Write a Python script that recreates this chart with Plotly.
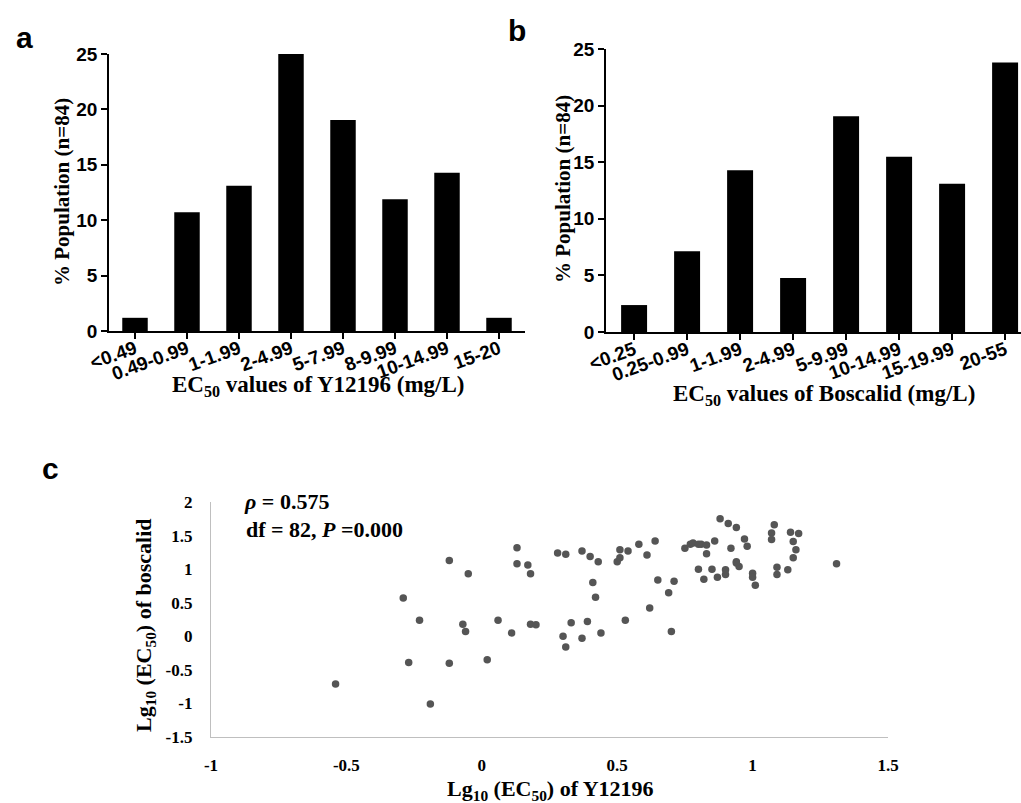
import plotly.graph_objects as go

# ---------------- data ----------------
cats_a = ["<0.49", "0.49-0.99", "1-1.99", "2-4.99", "5-7.99", "8-9.99", "10-14.99", "15-20"]
pct_a = [1.19, 10.71, 13.10, 25.00, 19.05, 11.90, 14.29, 1.19]

cats_b = ["<0.25", "0.25-0.99", "1-1.99", "2-4.99", "5-9.99", "10-14.99", "15-19.99", "20-55"]
pct_b = [2.38, 7.14, 14.29, 4.76, 19.05, 15.48, 13.10, 23.81]

bar_yticks = [0, 5, 10, 15, 20, 25]

lg_y12196 = [-0.54, -0.19, -0.29, -0.27, -0.23, -0.12, -0.12, -0.07, -0.06, -0.05,
             0.02, 0.06, 0.11, 0.13, 0.13, 0.17, 0.18, 0.18, 0.20, 0.28,
             0.30, 0.31, 0.31, 0.33, 0.37, 0.37, 0.39, 0.40, 0.41, 0.42,
             0.43, 0.44, 0.50, 0.51, 0.51, 0.53, 0.54, 0.58, 0.61, 0.62,
             0.64, 0.65, 0.69, 0.70, 0.71, 0.75, 0.77, 0.78, 0.80, 0.81,
             0.82, 0.83, 0.83, 0.85, 0.86, 0.87, 0.88, 0.90, 0.90, 0.91,
             0.92, 0.94, 0.94, 0.95, 0.97, 0.98, 1.00, 1.00, 1.01, 1.08,
             1.07, 1.07, 1.09, 1.09, 1.13, 1.14, 1.15, 1.15, 1.16, 1.17,
             1.31, 0.80, 0.94]
lg_boscalid = [-0.71, -1.01, 0.57, -0.39, 0.24, 1.13, -0.40, 0.18, 0.07, 0.93,
               -0.35, 0.24, 0.05, 1.08, 1.32, 1.06, 0.93, 0.18, 0.17, 1.24,
               0.00, -0.16, 1.22, 0.20, 1.27, -0.03, 0.22, 1.19, 0.80, 0.58,
               1.11, 0.05, 1.11, 1.29, 1.17, 0.24, 1.27, 1.37, 1.21, 0.42,
               1.42, 0.84, 0.65, 0.07, 0.82, 1.31, 1.37, 1.39, 1.00, 1.37,
               0.85, 1.36, 1.23, 1.00, 1.42, 0.88, 1.75, 0.92, 0.99, 1.68,
               1.31, 1.11, 1.62, 1.04, 1.45, 1.34, 0.94, 0.88, 0.76, 1.66,
               1.54, 1.44, 1.03, 0.92, 0.99, 1.55, 1.41, 1.17, 1.29, 1.53,
               1.08, 1.37, 1.09]

sc_xticks = [-1, -0.5, 0, 0.5, 1, 1.5]
sc_xtext = ["-1", "-0.5", "0", "0.5", "1", "1.5"]
sc_yticks = [2, 1.5, 1, 0.5, 0, -0.5, -1, -1.5]
sc_ytext = ["2", "1.5", "1", "0.5", "0", "-0.5", "-1", "-1.5"]

# ---------------- layout helpers ----------------
W, H = 1021, 803
def fx(p):
    return p / W
def fy(p):
    return 1 - p / H

SANS = "Liberation Sans, Arial, sans-serif"
SERIF = "Liberation Serif, Times New Roman, serif"

fig = go.Figure()

fig.add_trace(go.Bar(x=cats_a, y=pct_a, marker=dict(color="black", line=dict(width=0)),
                     width=0.49, xaxis="x", yaxis="y", showlegend=False))
fig.add_trace(go.Bar(x=cats_b, y=pct_b, marker=dict(color="black", line=dict(width=0)),
                     width=0.49, xaxis="x2", yaxis="y2", showlegend=False))
fig.add_trace(go.Scatter(x=lg_y12196, y=lg_boscalid, mode="markers",
                         marker=dict(color="#555555", size=7.5, line=dict(width=0)),
                         xaxis="x3", yaxis="y3", showlegend=False))

bar_x_common = dict(type="category", showline=True, linecolor="black", linewidth=1.5,
                    ticks="outside", ticklen=6, tickwidth=1.5, tickcolor="black",
                    tickangle=-20, showgrid=False, zeroline=False, automargin=False,
                    ticklabelstandoff=-8,
                    tickfont=dict(family=SANS, size=19, color="black", weight="bold"))
bar_y_common = dict(range=[0, 25], tickvals=bar_yticks, showline=True, linecolor="black",
                    linewidth=1.5, ticks="outside", ticklen=6, tickwidth=1.5,
                    tickcolor="black", showgrid=False, zeroline=False, automargin=False,
                    tickfont=dict(family=SANS, size=19, color="black", weight="bold"))

fig.update_layout(
    width=W, height=H,
    margin=dict(l=0, r=0, t=0, b=0, pad=0),
    paper_bgcolor="white", plot_bgcolor="white",
    bargap=0.5,
    xaxis=dict(domain=[fx(109), fx(525)], range=[-0.5, 7.5], anchor="y", **bar_x_common),
    yaxis=dict(domain=[fy(331), fy(54)], anchor="x", **bar_y_common),
    xaxis2=dict(domain=[fx(606), 1.0], range=[-0.53, 7.30], anchor="y2", **bar_x_common),
    yaxis2=dict(domain=[fy(332), fy(49)], anchor="x2", **bar_y_common),
    xaxis3=dict(domain=[fx(211), fx(888)], range=[-1, 1.5], anchor="y3",
                tickvals=sc_xticks, ticktext=sc_xtext, automargin=False,
                showline=True, linecolor="#BFBFBF", linewidth=1.2,
                ticks="", showgrid=False, zeroline=False, ticklabelstandoff=12,
                tickfont=dict(family=SERIF, size=17, color="black", weight="bold")),
    yaxis3=dict(domain=[fy(737), fy(502)], range=[-1.5, 2], anchor="x3",
                tickvals=sc_yticks, ticktext=sc_ytext, automargin=False,
                showline=True, linecolor="#BFBFBF", linewidth=1.2,
                ticks="", showgrid=False, zeroline=False, ticklabelstandoff=14,
                tickfont=dict(family=SERIF, size=17, color="black", weight="bold")),
)

ann = []
def add_text(text, x, y, size, family, angle=0, xanchor="center", yanchor="middle"):
    ann.append(dict(text=text, x=fx(x), y=fy(y), xref="paper", yref="paper",
                    showarrow=False, textangle=angle, xanchor=xanchor, yanchor=yanchor,
                    font=dict(family=family, size=size, color="black", weight="bold")))

# panel letters
add_text("a", 24, 38, 30, SANS)
add_text("b", 517, 30, 30, SANS)
add_text("c", 50, 468, 30, SANS)

# axis titles
add_text("% Population (n=84)", 62, 192, 21, SERIF, angle=-90)
add_text("EC<sub>50</sub> values of Y12196 (mg/L)", 318, 386, 23, SERIF)
add_text("% Population (n=84)", 563, 189, 21, SERIF, angle=-90)
add_text("EC<sub>50</sub> values of Boscalid (mg/L)", 824, 395, 23, SERIF)
add_text("Lg<sub>10</sub> (EC<sub>50</sub>) of boscalid", 145, 625, 22, SERIF, angle=-90)
add_text("Lg<sub>10</sub> (EC<sub>50</sub>) of Y12196", 550, 790, 22, SERIF)

# statistics
add_text("<i>ρ</i> = 0.575", 242, 502, 22, SERIF, xanchor="left")
add_text("df = 82, <i>P</i> =0.000", 244, 529, 22, SERIF, xanchor="left")

fig.update_layout(annotations=ann)

fig.write_html("out.html", config={"displayModeBar": False},
               post_script="document.body.style.margin='0';")
